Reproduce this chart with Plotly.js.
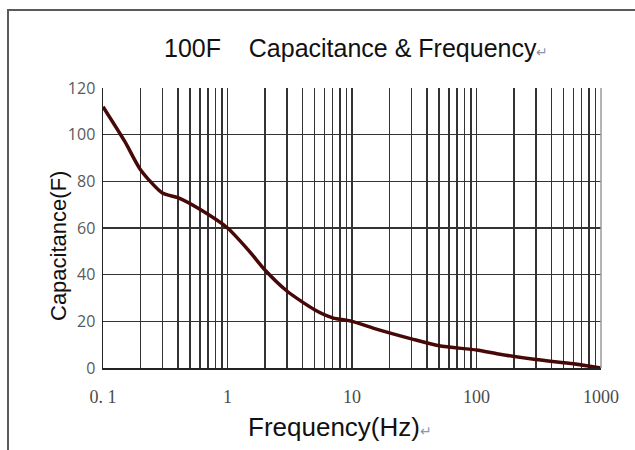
<!DOCTYPE html>
<html>
<head>
<meta charset="utf-8">
<script src="https://cdn.plot.ly/plotly-3.0.1.min.js"></script>
<style>
  html, body { margin: 0; padding: 0; background: #fff; }
  #wrap { position: relative; width: 635px; height: 450px; overflow: hidden; }
  #chart { position: absolute; left: 0; top: 0; width: 635px; height: 450px; }
  #frame { position: absolute; left: 7px; top: 9px; width: 640px; height: 460px;
           border-top: 2px solid #5a5a5a; border-left: 2px solid #5a5a5a; pointer-events: none; }
</style>
</head>
<body>
<div id="wrap">
  <div id="chart"></div>
  <div id="frame"></div>
</div>
<script>
// Data
const frequencyHz = [0.1, 0.15, 0.2, 0.3, 0.4, 0.6, 1, 1.5, 2, 3, 5, 7, 10, 15, 30, 50, 100, 150, 300, 600, 1000];
const capacitanceF = [112, 97, 85, 75, 73, 68, 60, 50, 42, 33, 25, 21.5, 20, 17, 12.5, 9.5, 7.7, 6, 3.6, 1.8, 0];

const decades = [0.1, 1, 10, 100, 1000];
const decadeLabels = ['0. 1', '1', '10', '100', '1000'];
const multipliers = [1, 2, 3, 4, 5, 6, 7, 8, 9];
const yTicks = [0, 20, 40, 60, 80, 100, 120];

const titleText = '100F&nbsp;&nbsp;&nbsp;&nbsp;Capacitance & Frequency';
const xTitleText = 'Frequency(Hz)';
const yTitleText = 'Capacitance(F)';
const returnMark = '<span style="font-size:14px;color:#8a96a8">↵</span>';

// Build log grid tick positions (labels only on decades)
const xTickVals = [];
const xTickText = [];
decades.forEach((d, i) => {
  if (i === decades.length - 1) { xTickVals.push(d); xTickText.push(decadeLabels[i]); return; }
  multipliers.forEach(m => {
    xTickVals.push(d * m);
    xTickText.push(m === 1 ? decadeLabels[i] : '');
  });
});

const trace = {
  x: frequencyHz,
  y: capacitanceF,
  type: 'scatter',
  mode: 'lines',
  line: { color: '#470808', width: 3.5, shape: 'spline', smoothing: 0.7 },
  hoverinfo: 'x+y'
};

const titleFont = { family: 'Liberation Sans, Arial, sans-serif', color: '#111' };

const layout = {
  width: 635,
  height: 450,
  margin: { l: 103, r: 34, t: 88, b: 82 },
  paper_bgcolor: 'rgba(0,0,0,0)',
  plot_bgcolor: '#ffffff',
  showlegend: false,
  title: {
    text: titleText + returnMark,
    font: Object.assign({ size: 25 }, titleFont),
    x: 0.561, xref: 'container', xanchor: 'center',
    y: 1 - 48 / 450, yref: 'container', yanchor: 'middle'
  },
  xaxis: {
    type: 'log',
    range: [Math.log10(0.1), Math.log10(1000)],
    tickmode: 'array',
    tickvals: xTickVals,
    ticktext: xTickText,
    ticks: '',
    ticklabelstandoff: 12,
    showgrid: true,
    gridcolor: '#333333',
    gridwidth: 1.5,
    showline: true,
    linecolor: '#222',
    linewidth: 1.5,
    zeroline: false,
    tickfont: { family: 'Liberation Serif, DejaVu Serif, serif', size: 18, color: '#4a4a4a' }
  },
  yaxis: {
    range: [0, 120],
    tickmode: 'array',
    tickvals: yTicks,
    ticktext: yTicks.map(String),
    ticks: '',
    showgrid: true,
    gridcolor: '#333333',
    gridwidth: 1.5,
    showline: true,
    linecolor: '#222',
    linewidth: 1.5,
    zeroline: false,
    ticklabelstandoff: 3,
    tickfont: { family: 'Open Sans, DejaVu Sans, sans-serif', size: 16, color: '#5a5a5a' }
  },
  annotations: [
    { text: xTitleText + returnMark, xref: 'paper', yref: 'paper',
      x: (340 - 103) / 498, y: (368 - 427) / 280, xanchor: 'center', yanchor: 'middle',
      showarrow: false, font: Object.assign({ size: 26 }, titleFont) },
    { text: yTitleText, xref: 'paper', yref: 'paper', textangle: -90,
      x: (58 - 103) / 498, y: (368 - 246) / 280, xanchor: 'center', yanchor: 'middle',
      showarrow: false, font: Object.assign({ size: 22 }, titleFont) }
  ],
  shapes: [
    { type: 'line', xref: 'paper', yref: 'paper', x0: 1, x1: 1, y0: 0, y1: 1,
      line: { color: '#9a9a9a', width: 1.5 } }
  ]
};

Plotly.newPlot('chart', [trace], layout, { displayModeBar: false, staticPlot: true });
</script>
</body>
</html>
